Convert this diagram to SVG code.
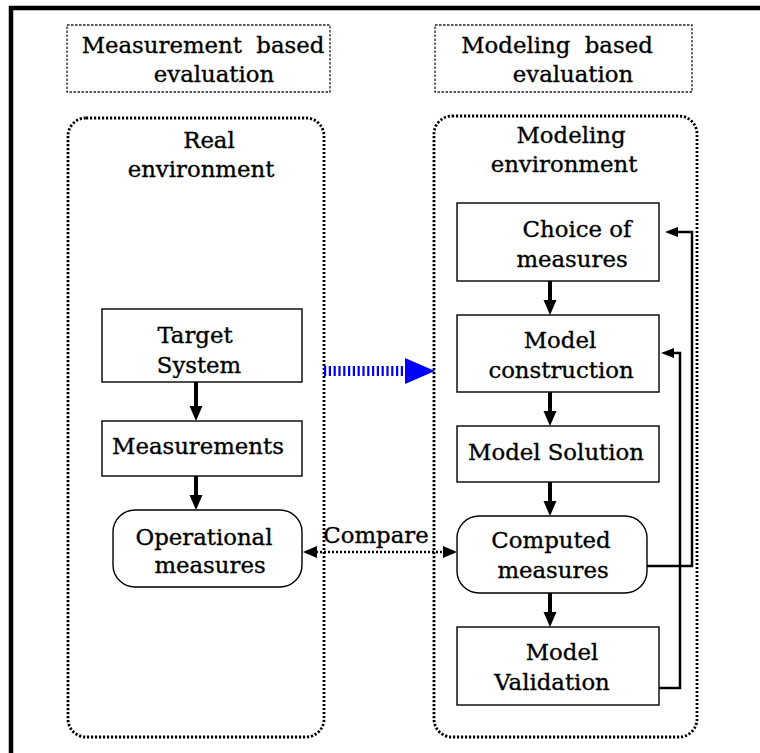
<svg xmlns="http://www.w3.org/2000/svg" width="760" height="753" viewBox="0 0 760 753">
<defs>
<style>
text{font-family:"DejaVu Serif","Liberation Serif",serif;font-size:22.8px;fill:#000;stroke:#000;stroke-width:0.35;text-anchor:middle}
.hdr{fill:none;stroke:#222;stroke-width:1.3;stroke-dasharray:2.5 1.5}
.env{fill:none;stroke:#000;stroke-width:2.8;stroke-dasharray:2.2 1.8}
.node{fill:#fff;stroke:#000;stroke-width:1.4}
.flow{stroke:#000;stroke-width:4;fill:none}
.fb{stroke:#000;stroke-width:2.5;fill:none}
</style>
<marker id="ah" markerUnits="userSpaceOnUse" markerWidth="16" markerHeight="14" refX="0" refY="6.5" orient="auto" overflow="visible"><path d="M0,0 L15,6.5 L0,13 z" fill="#000"/></marker>
<marker id="sh" markerUnits="userSpaceOnUse" markerWidth="13" markerHeight="10" refX="0" refY="5" orient="auto" overflow="visible"><path d="M0,0 L13,5 L0,10 z" fill="#000"/></marker>
</defs>
<rect width="760" height="753" fill="#fff"/>
<path d="M11,753 L11,8 L760,8" fill="none" stroke="#000" stroke-width="4.5"/>

<g id="hdr-measurement">
<rect class="hdr" x="67" y="25" width="263" height="67"/>
<text x="203" y="53" xml:space="preserve">Measurement  based</text>
<text x="214" y="82">evaluation</text>
</g>
<g id="hdr-modeling">
<rect class="hdr" x="435" y="25" width="257" height="67"/>
<text x="557" y="53" xml:space="preserve">Modeling  based</text>
<text x="573" y="82">evaluation</text>
</g>

<g id="env-real">
<rect class="env" x="68" y="118" width="256" height="619" rx="18"/>
<text x="209" y="148">Real</text>
<text x="201" y="177">environment</text>
</g>
<g id="env-modeling">
<rect class="env" x="434" y="116" width="263" height="621" rx="18"/>
<text x="571" y="143">Modeling</text>
<text x="564" y="172">environment</text>
</g>

<g id="target-system">
<rect class="node" x="102" y="309" width="200" height="73"/>
<text x="195" y="343">Target</text>
<text x="199" y="373">System</text>
</g>
<g id="measurements">
<rect class="node" x="102" y="421" width="200" height="55"/>
<text x="198" y="454">Measurements</text>
</g>
<g id="operational-measures">
<rect class="node" x="113" y="510" width="189" height="77" rx="22"/>
<text x="204" y="545">Operational</text>
<text x="210" y="573">measures</text>
</g>

<g id="choice-of-measures">
<rect class="node" x="457" y="203" width="202" height="78"/>
<text x="577" y="237">Choice of</text>
<text x="572" y="267">measures</text>
</g>
<g id="model-construction">
<rect class="node" x="457" y="315" width="202" height="77"/>
<text x="560" y="348">Model</text>
<text x="561" y="378">construction</text>
</g>
<g id="model-solution">
<rect class="node" x="457" y="426" width="202" height="56"/>
<text x="556" y="460">Model Solution</text>
</g>
<g id="computed-measures">
<rect class="node" x="457" y="516" width="190" height="77" rx="22"/>
<text x="551" y="548">Computed</text>
<text x="553" y="578">measures</text>
</g>
<g id="model-validation">
<rect class="node" x="457" y="627" width="202" height="78"/>
<text x="562" y="660">Model</text>
<text x="552" y="690">Validation</text>
</g>

<g id="connectors">
<line class="flow" x1="196" y1="382" x2="196" y2="406" marker-end="url(#ah)"/>
<line class="flow" x1="196" y1="476" x2="196" y2="495" marker-end="url(#ah)"/>
<line class="flow" x1="550" y1="281" x2="550" y2="300" marker-end="url(#ah)"/>
<line class="flow" x1="550" y1="392" x2="550" y2="411" marker-end="url(#ah)"/>
<line class="flow" x1="550" y1="482" x2="550" y2="501" marker-end="url(#ah)"/>
<line class="flow" x1="550" y1="593" x2="550" y2="612" marker-end="url(#ah)"/>
<polyline class="fb" points="647,566 692,566 692,232 678,232" marker-end="url(#sh)"/>
<polyline class="fb" points="659,688 680,688 680,353 674,353" marker-end="url(#sh)"/>
<line x1="324" y1="371" x2="405" y2="371" stroke="#0000ff" stroke-width="10" stroke-dasharray="2.2 2.6"/>
<polygon points="405,358 435,371 405,384" fill="#0000ff"/>
<line x1="316" y1="552" x2="444" y2="552" stroke="#000" stroke-width="2.5" stroke-dasharray="2 2"/>
<polygon points="317,546 303,552 317,558" fill="#000"/>
<polygon points="443,546 457,552 443,558" fill="#000"/>
<text x="376" y="543">Compare</text>
</g>
</svg>
